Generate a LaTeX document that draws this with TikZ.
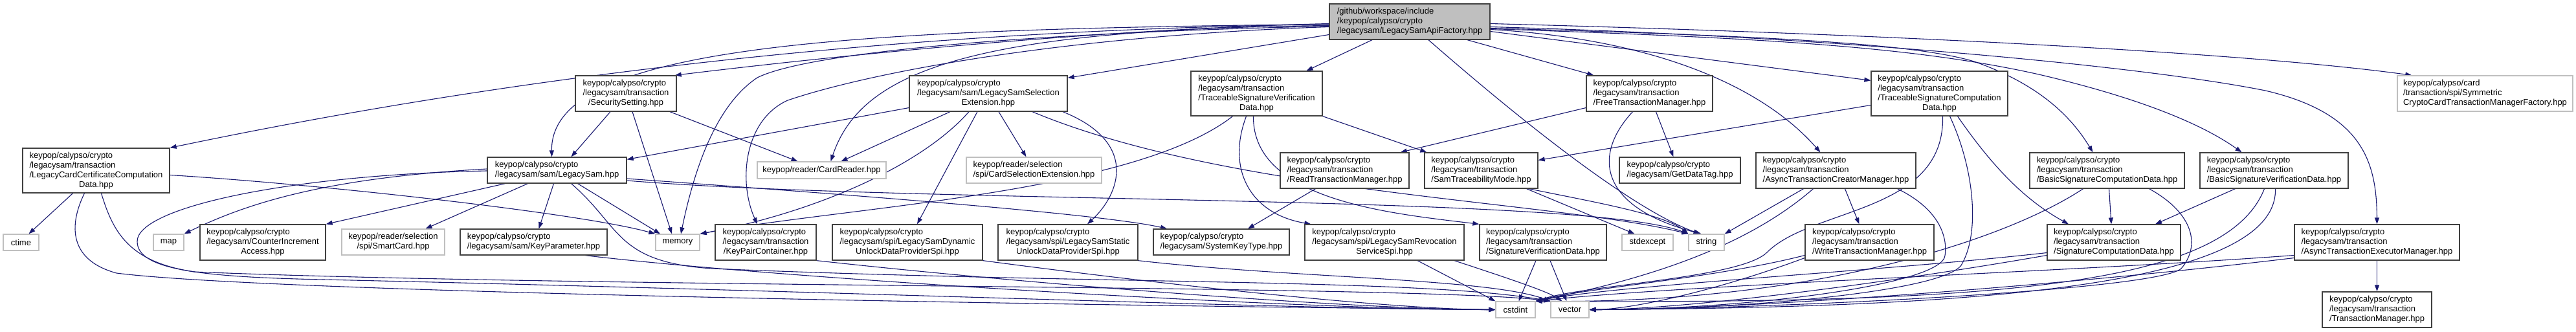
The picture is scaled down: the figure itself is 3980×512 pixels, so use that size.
\documentclass[tikz,border=0pt]{standalone}
\usepackage{fontspec}
\setmainfont{Liberation Sans}
\usetikzlibrary{arrows.meta}
\definecolor{edgec}{HTML}{191970}
\definecolor{boxc}{HTML}{404040}
\definecolor{extc}{HTML}{BFBFBF}
\definecolor{rootc}{HTML}{BFBFBF}
\newcommand{\dxl}[2]{\begin{tabular}{@{}l@{}}#1\\\multicolumn{1}{@{}c@{}}{#2}\end{tabular}}
\pgfdeclarelayer{bglayer}\pgfdeclarelayer{edgelayer}\pgfsetlayers{bglayer,edgelayer,main}
\tikzset{
  nb/.style={draw=boxc, line width=1.3pt, fill=white, inner sep=0pt, font=\fontsize{13}{15}\selectfont},
  ng/.style={nb, draw=extc},
  nr/.style={nb, fill=rootc},
  ln/.style={draw=edgec, line width=1.1pt, -{Triangle[length=10pt,width=7pt]}},
}
\begin{document}
\begin{tikzpicture}[x=1pt,y=-1pt]
\begin{pgfonlayer}{bglayer}
\fill[white] (0,0) rectangle (3980,512);
\end{pgfonlayer}
\useasboundingbox (0,0) rectangle (3980,512);
% level 0
\node[nr, minimum width=248pt, minimum height=55pt] (root) at (2178,33.5) {\dxl{/github/workspace/include\\/keypop/calypso/crypto}{/legacysam/LegacySamApiFactory.hpp}};
% level 1
\node[nb, minimum width=227pt, minimum height=69pt] (lcc) at (148.5,263.5) {\dxl{keypop/calypso/crypto\\/legacysam/transaction\\/LegacyCardCertificateComputation}{Data.hpp}};
\node[nb, minimum width=156pt, minimum height=55pt] (ss) at (967,144.5) {\dxl{keypop/calypso/crypto\\/legacysam/transaction}{/SecuritySetting.hpp}};
\node[nb, minimum width=244pt, minimum height=55pt] (ext) at (1527,144.5) {\dxl{keypop/calypso/crypto\\/legacysam/sam/LegacySamSelection}{Extension.hpp}};
\node[nb, minimum width=203pt, minimum height=69pt] (tsv) at (1941.5,144.5) {\dxl{keypop/calypso/crypto\\/legacysam/transaction\\/TraceableSignatureVerification}{Data.hpp}};
\node[nb, minimum width=195pt, minimum height=55pt] (ftm) at (2548.5,144.5) {\dxl{keypop/calypso/crypto\\/legacysam/transaction}{/FreeTransactionManager.hpp}};
\node[nb, minimum width=211pt, minimum height=69pt] (tsc) at (2996.5,144.5) {\dxl{keypop/calypso/crypto\\/legacysam/transaction\\/TraceableSignatureComputation}{Data.hpp}};
\node[ng, minimum width=271pt, minimum height=55pt] (sym) at (3839.5,144.5) {\dxl{keypop/calypso/card\\/transaction/spi/Symmetric}{CryptoCardTransactionManagerFactory.hpp}};
% level 2
\node[nb, minimum width=215pt, minimum height=40pt] (ls) at (860.5,263) {\dxl{keypop/calypso/crypto}{/legacysam/sam/LegacySam.hpp}};
\node[ng, minimum width=199pt, minimum height=26pt] (cr) at (1269.5,263) {keypop/reader/CardReader.hpp};
\node[ng, minimum width=209pt, minimum height=40pt] (cse) at (1597.5,263) {\dxl{keypop/reader/selection}{/spi/CardSelectionExtension.hpp}};
\node[nb, minimum width=199pt, minimum height=55pt] (rtm) at (2077.5,263.5) {\dxl{keypop/calypso/crypto\\/legacysam/transaction}{/ReadTransactionManager.hpp}};
\node[nb, minimum width=175pt, minimum height=55pt] (stm) at (2288.5,263.5) {\dxl{keypop/calypso/crypto\\/legacysam/transaction}{/SamTraceabilityMode.hpp}};
\node[nb, minimum width=187pt, minimum height=40pt] (gdt) at (2595.5,263) {\dxl{keypop/calypso/crypto}{/legacysam/GetDataTag.hpp}};
\node[nb, minimum width=247pt, minimum height=55pt] (atc) at (2836.5,263.5) {\dxl{keypop/calypso/crypto\\/legacysam/transaction}{/AsyncTransactionCreatorManager.hpp}};
\node[nb, minimum width=239pt, minimum height=55pt] (bsc) at (3255.5,263.5) {\dxl{keypop/calypso/crypto\\/legacysam/transaction}{/BasicSignatureComputationData.hpp}};
\node[nb, minimum width=229pt, minimum height=55pt] (bsv) at (3513.5,263.5) {\dxl{keypop/calypso/crypto\\/legacysam/transaction}{/BasicSignatureVerificationData.hpp}};
% level 3
\node[ng, minimum width=55pt, minimum height=25pt] (ctime) at (32.5,374.5) {ctime};
\node[ng, minimum width=47pt, minimum height=25pt] (map) at (260.5,374.5) {map};
\node[nb, minimum width=194pt, minimum height=55pt] (cia) at (406,374.5) {\dxl{keypop/calypso/crypto\\/legacysam/CounterIncrement}{Access.hpp}};
\node[ng, minimum width=159pt, minimum height=40pt] (sc) at (607.5,374) {\dxl{keypop/reader/selection}{/spi/SmartCard.hpp}};
\node[nb, minimum width=227pt, minimum height=40pt] (kp) at (824.5,374) {\dxl{keypop/calypso/crypto}{/legacysam/sam/KeyParameter.hpp}};
\node[ng, minimum width=68pt, minimum height=25pt] (mem) at (1047,374.5) {memory};
\node[nb, minimum width=156pt, minimum height=55pt] (kpc) at (1183,374.5) {\dxl{keypop/calypso/crypto\\/legacysam/transaction}{/KeyPairContainer.hpp}};
\node[nb, minimum width=232pt, minimum height=55pt] (dyn) at (1402,374.5) {\dxl{keypop/calypso/crypto\\/legacysam/spi/LegacySamDynamic}{UnlockDataProviderSpi.hpp}};
\node[nb, minimum width=216pt, minimum height=55pt] (sta) at (1650,374.5) {\dxl{keypop/calypso/crypto\\/legacysam/spi/LegacySamStatic}{UnlockDataProviderSpi.hpp}};
\node[nb, minimum width=210pt, minimum height=40pt] (skt) at (1887,374) {\dxl{keypop/calypso/crypto}{/legacysam/SystemKeyType.hpp}};
\node[nb, minimum width=246pt, minimum height=55pt] (rev) at (2139,374.5) {\dxl{keypop/calypso/crypto\\/legacysam/spi/LegacySamRevocation}{ServiceSpi.hpp}};
\node[nb, minimum width=196pt, minimum height=55pt] (svd) at (2384,374.5) {\dxl{keypop/calypso/crypto\\/legacysam/transaction}{/SignatureVerificationData.hpp}};
\node[ng, minimum width=79pt, minimum height=25pt] (stdx) at (2545.5,374.5) {stdexcept};
\node[ng, minimum width=55pt, minimum height=25pt] (str) at (2636.5,374.5) {string};
\node[nb, minimum width=199pt, minimum height=55pt] (wtm) at (2888.5,374.5) {\dxl{keypop/calypso/crypto\\/legacysam/transaction}{/WriteTransactionManager.hpp}};
\node[nb, minimum width=206pt, minimum height=55pt] (scd) at (3266,374.5) {\dxl{keypop/calypso/crypto\\/legacysam/transaction}{/SignatureComputationData.hpp}};
\node[nb, minimum width=255pt, minimum height=55pt] (ate) at (3672.5,374.5) {\dxl{keypop/calypso/crypto\\/legacysam/transaction}{/AsyncTransactionExecutorManager.hpp}};
% level 4
\node[ng, minimum width=61pt, minimum height=25pt] (cstd) at (2341.5,478.5) {cstdint};
\node[ng, minimum width=59pt, minimum height=25pt] (vec) at (2425.5,478.5) {vector};
\node[nb, minimum width=169pt, minimum height=55pt] (tm) at (3672.5,478.5) {\dxl{keypop/calypso/crypto\\/legacysam/transaction}{/TransactionManager.hpp}};

\begin{pgfonlayer}{edgelayer}
% root
\draw[ln] ([yshift=-4]root.west) .. controls (1500,45) and (900,95) .. (lcc.north east);
\draw[ln] ([yshift=-3]root.west) .. controls (1700,45) and (1300,85) .. ([xshift=-3]ss.north east);
\draw[ln] ([yshift=-4]root.west) .. controls (1300,45) and (850,70) .. ([xshift=-8]ls.north);
\draw[ln] ([yshift=-6]root.west) .. controls (1500,45) and (1330,110) .. ([xshift=14]cr.north);
\draw[ln] ([yshift=-7]root.west) .. controls (1600,50) and (1250,80) .. (1170,120) .. controls (1110,160) and (1075,250) .. ([xshift=5]mem.north);
\draw[ln] ([yshift=-8]root.west) .. controls (1650,55) and (1350,110) .. (1217,155) .. controls (1150,185) and (1140,280) .. ([xshift=-13]kpc.north);
\draw[ln] ([yshift=-20]root.west) -- ([yshift=-4]ext.north east);
\draw[ln] ([xshift=-58]root.south) -- ([xshift=77]tsv.north);
\draw[ln] ([xshift=29]root.south) .. controls (2400,230) and (2540,330) .. ([xshift=-10]str.north);
\draw[ln] ([xshift=89]root.south) -- ([xshift=12]ftm.north west);
\draw[ln] ([yshift=-15]root.east) -- ([yshift=-15]tsc.north west);
\draw[ln] ([yshift=-12]root.east) .. controls (2550,60) and (2720,130) .. ([xshift=-24]atc.north);
\draw[ln] ([yshift=-10]root.east) .. controls (2700,55) and (2950,65) .. (3050,95) .. controls (3150,130) and (3200,180) .. ([xshift=-22]bsc.north);
\draw[ln] ([yshift=-11]root.east) .. controls (2700,58) and (2950,70) .. (3150,115) .. controls (3300,150) and (3400,190) .. ([xshift=-50]bsv.north);
\draw[ln] ([yshift=-8]root.east) .. controls (2800,55) and (3300,100) .. (3500,140) .. controls (3650,175) and (3672,250) .. (ate.north);
\draw[ln] ([yshift=-3]root.east) .. controls (3000,55) and (3500,85) .. ([xshift=23]sym.north west);
% lcc
\draw[ln] ([xshift=-36]lcc.south) -- ([xshift=12]ctime.north);
\draw[ln] ([yshift=-7]lcc.east) .. controls (500,285) and (900,330) .. (mem.north west);
\draw[ln] ([xshift=-18]lcc.south) .. controls (110,340) and (100,400) .. (180,422) .. controls (400,450) and (1500,470) .. (cstd.west);
\draw[ln] ([xshift=8]lcc.south) .. controls (175,360) and (200,405) .. (300,420) .. controls (900,445) and (2200,440) .. (vec.north west);
% ls
\draw[ln] ([xshift=-80]ls.south) -- (cia.north east);
\draw[ln] ([xshift=-45]ls.south) -- ([xshift=50]sc.north);
\draw[ln] ([xshift=-5]ls.south) -- ([xshift=8]kp.north);
\draw[ln] ([xshift=32]ls.south) -- ([xshift=-27]mem.north);
\draw[ln] ([yshift=-13]ls.east) .. controls (1300,300) and (1700,330) .. ([xshift=-84]skt.north);
\draw[ln] ([yshift=-16]ls.east) .. controls (1400,315) and (2450,300) .. (str.north west);
\draw[ln] ([yshift=2]ls.west) .. controls (500,275) and (380,315) .. (map.north east);
\draw[ln] ([yshift=-1]ls.west) .. controls (450,270) and (212,320) .. (212,373) .. controls (212,415) and (300,428) .. (500,432) .. controls (1300,450) and (2000,478) .. (cstd.west);
\draw[ln] ([xshift=22]ls.south) .. controls (960,350) and (950,405) .. (1100,415) .. controls (1700,440) and (2200,430) .. (vec.north west);
% ss
\draw[ln] ([xshift=-24]ss.south) -- ([xshift=22]ls.north);
\draw[ln] ([xshift=10]ss.south) -- ([xshift=-9]mem.north);
\draw[ln] ([xshift=68]ss.south) -- ([xshift=-37]cr.north);
% ext
\draw[ln] ([yshift=-22]ext.west) -- ([yshift=-4]ls.north east);
\draw[ln] ([xshift=-59]ext.south) -- ([xshift=30]cr.north);
\draw[ln] ([xshift=16]ext.south) -- ([xshift=-12]cse.north);
\draw[ln] ([xshift=-30]ext.south) .. controls (1420,260) and (1250,330) .. (mem.north east);
\draw[ln] ([xshift=-17]ext.south) -- ([xshift=15]dyn.north);
\draw[ln] ([xshift=115]ext.south) .. controls (1760,220) and (1730,300) .. ([xshift=30]sta.north);
\draw[ln] ([xshift=68]ext.south) .. controls (1900,300) and (2400,310) .. (str.north west);
% tsv
\draw[ln] ([xshift=-37]tsv.south) .. controls (1750,300) and (1300,320) .. (mem.north east);
\draw[ln] ([xshift=-16]tsv.south) .. controls (1895,260) and (1930,330) .. ([xshift=10]rev.north west);
\draw[ln] ([xshift=-5]tsv.south) .. controls (1935,310) and (2150,330) .. (svd.north west);
\draw[ln] (tsv.south east) -- ([xshift=4]stm.north west);
% ftm
\draw[ln] ([yshift=-22]ftm.west) -- ([xshift=-14]rtm.north east);
\draw[ln] ([xshift=10]ftm.south) -- ([xshift=-10]gdt.north);
\draw[ln] ([xshift=-26]ftm.south) .. controls (2460,240) and (2470,320) .. ([xshift=-8]str.north);
% rtm
\draw[ln] ([xshift=-45]rtm.south) -- ([xshift=41]skt.north);
% stm
\draw[ln] ([xshift=70]stm.south) -- ([xshift=-20]stdx.north);
\draw[ln] ([xshift=74]stm.south) .. controls (2450,310) and (2570,330) .. (str.north west);
% tsc
\draw[ln] ([yshift=-18]tsc.west) -- ([yshift=16]stm.east);
\draw[ln] ([xshift=28]tsc.south) .. controls (3080,260) and (3130,310) .. ([xshift=-70]scd.north);
\draw[ln] ([xshift=5]tsc.south) .. controls (3005,330) and (2800,320) .. (2730,390) .. controls (2690,430) and (2450,440) .. (cstd.north east);
\draw[ln] ([xshift=16]tsc.south) .. controls (3050,260) and (3060,360) .. (3030,410) .. controls (3000,450) and (2700,478) .. (vec.east);
% bsc
\draw[ln] ([xshift=3]bsc.south) -- ([xshift=-4]scd.north);
\draw[ln] ([xshift=-37]bsc.south) .. controls (3100,370) and (2800,470) .. (cstd.north east);
\draw[ln] ([xshift=65]bsc.south) .. controls (3390,330) and (3400,380) .. (3370,415) .. controls (3330,450) and (2700,478) .. (vec.east);
% bsv
\draw[ln] ([xshift=-60]bsv.south) -- ([xshift=64]scd.north);
\draw[ln] ([xshift=-15]bsv.south) .. controls (3440,440) and (3100,470) .. (cstd.north east);
\draw[ln] ([xshift=2]bsv.south) .. controls (3520,450) and (3000,475) .. (vec.east);
% atc
\draw[ln] ([xshift=-50]atc.south) -- (str.north east);
\draw[ln] ([xshift=14]atc.south) -- ([xshift=-16]wtm.north);
\draw[ln] ([xshift=-35]atc.south) .. controls (2700,380) and (2550,430) .. (cstd.north east);
\draw[ln] ([xshift=95]atc.south) .. controls (2990,320) and (3010,360) .. (3005,395) .. controls (3000,440) and (2700,478) .. (vec.east);
% wtm
\draw[ln] ([yshift=-20]wtm.west) .. controls (2650,430) and (2450,445) .. (cstd.north east);
\draw[ln] ([yshift=-24]wtm.west) .. controls (2650,450) and (2520,478) .. (vec.east);
% scd
\draw[ln] ([yshift=-16]scd.west) .. controls (2900,420) and (2500,440) .. (cstd.north east);
\draw[ln] ([yshift=-20]scd.west) .. controls (2900,440) and (2600,478) .. (vec.east);
% ate
\draw[ln] (ate) -- (tm);
\draw[ln] ([yshift=-20]ate.west) .. controls (3200,420) and (2600,440) .. (cstd.north east);
\draw[ln] ([yshift=-24]ate.west) .. controls (3200,440) and (2700,478) .. (vec.east);
% svd
\draw[ln] ([xshift=-11]svd.south) -- ([xshift=5]cstd.north);
\draw[ln] ([xshift=11]svd.south) -- ([xshift=-5]vec.north);
% rev
\draw[ln] ([xshift=51]rev.south) -- (cstd.north west);
\draw[ln] ([xshift=108]rev.south) .. controls (2330,430) and (2390,450) .. ([xshift=-12]vec.north);
% others
\draw[ln] (kpc.south east) .. controls (1600,440) and (2100,478) .. (cstd.west);
\draw[ln] (dyn.south east) .. controls (1800,440) and (2150,478) .. (cstd.west);
\draw[ln] (sta.south east) .. controls (2000,430) and (2300,430) .. (vec.north west);
\draw[ln] ([xshift=80]kp.south) .. controls (1200,430) and (2000,478) .. (cstd.west);
\end{pgfonlayer}
\end{tikzpicture}
\end{document}
